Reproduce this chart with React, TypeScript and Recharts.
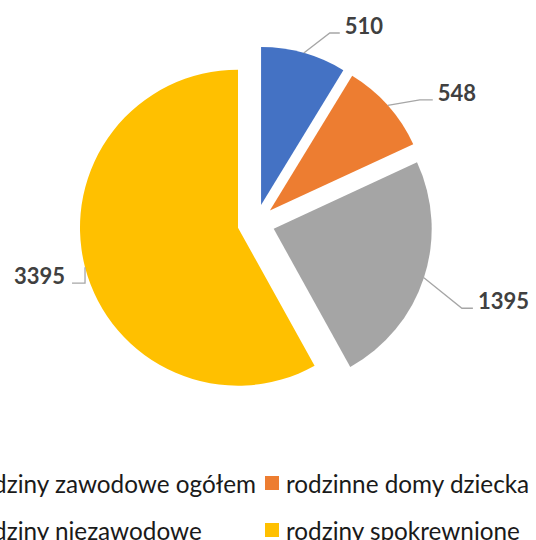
import React from 'react';
import { PieChart, Pie, Cell, Legend } from 'recharts';

const categories = [
  'rodziny zawodowe ogółem',
  'rodzinne domy dziecka',
  'rodziny niezawodowe',
  'rodziny spokrewnione',
];
const values = [510, 548, 1395, 3395];
const colors = ['#4472C4', '#ED7D31', '#A5A5A5', '#FFC000'];

// layout
const CX = 256;
const CY = 223;
const R = 158;
const EXPLODE = 18.6;
const LEADERS = [
  { ex: 26, ey: -20, h: 10, gap: 5 },
  { ex: 32, ey: -5.5, h: 13, gap: 5 },
  { ex: 38, ey: 30.5, h: 11, gap: 5 },
  { ex: 0, ey: 16, h: -13, gap: 7 },
];
const FONT = 'Lato, "Open Sans", sans-serif';

const total = values.reduce((a, b) => a + b, 0);
const slices = values.map((v, i) => {
  const before = values.slice(0, i).reduce((a, b) => a + b, 0);
  const start = 90 - (before / total) * 360;
  const end = 90 - ((before + v) / total) * 360;
  const mid = ((start + end) / 2) * (Math.PI / 180);
  return {
    name: categories[i],
    value: v,
    start,
    end,
    cx: CX + EXPLODE * Math.cos(mid),
    cy: CY - EXPLODE * Math.sin(mid),
  };
});

const renderLabel = (i: number) => (props: any) => {
  const { cx, cy, midAngle, outerRadius, value } = props;
  const rad = (-midAngle * Math.PI) / 180;
  const x0 = cx + outerRadius * Math.cos(rad);
  const y0 = cy + outerRadius * Math.sin(rad);
  const L = LEADERS[i];
  const x1 = x0 + L.ex;
  const y1 = y0 + L.ey;
  const x2 = x1 + L.h;
  const right = L.h >= 0;
  return (
    <g>
      <polyline
        points={`${x0},${y0} ${x1},${y1} ${x2},${y1}`}
        fill="none"
        stroke="#A6A6A6"
        strokeWidth={1.3}
      />
      <text
        x={right ? x2 + L.gap : x2 - L.gap}
        y={y1 + 1}
        textAnchor={right ? 'start' : 'end'}
        fill="#404040"
        fontFamily={FONT}
        fontWeight="bold"
        fontSize={22}
      >
        {value}
      </text>
    </g>
  );
};

const LegendGrid = () => {
  const item = (i: number) => (
    <div key={i} style={{ display: 'flex', alignItems: 'center', height: 47, whiteSpace: 'nowrap' }}>
      <span style={{ width: 14, height: 14, background: colors[i], display: 'inline-block', marginRight: 7, flexShrink: 0 }} />
      <span style={{ fontFamily: FONT, fontSize: 24.3, color: '#1a1a1a' }}>{categories[i]}</span>
    </div>
  );
  return (
    <div style={{ position: 'relative', width: 536, height: 540 }}>
      <div style={{ position: 'absolute', right: 536 - 256, top: 459.5, display: 'flex', flexDirection: 'column', alignItems: 'flex-start' }}>
        {item(0)}
        {item(2)}
      </div>
      <div style={{ position: 'absolute', left: 265, top: 459.5, display: 'flex', flexDirection: 'column', alignItems: 'flex-start' }}>
        {item(1)}
        {item(3)}
      </div>
    </div>
  );
};

export default function App() {
  return (
    <div style={{ position: 'absolute', left: 0, top: 0, width: 536, height: 540, overflow: 'hidden', background: '#fff' }}>
      <PieChart width={536} height={540} margin={{ top: 0, right: 0, bottom: 0, left: 0 }}>
        {slices.map((s, i) => (
          <Pie
            key={s.name}
            data={[s]}
            dataKey="value"
            nameKey="name"
            cx={s.cx}
            cy={s.cy}
            outerRadius={R}
            startAngle={s.start}
            endAngle={s.end}
            stroke="none"
            label={renderLabel(i)}
            labelLine={false}
            isAnimationActive={false}
          >
            <Cell fill={colors[i]} />
          </Pie>
        ))}
        <Legend
          content={() => <LegendGrid />}
          wrapperStyle={{ position: 'absolute', left: 0, top: 0, bottom: 'auto', width: 536, height: 540 }}
        />
      </PieChart>
    </div>
  );
}
